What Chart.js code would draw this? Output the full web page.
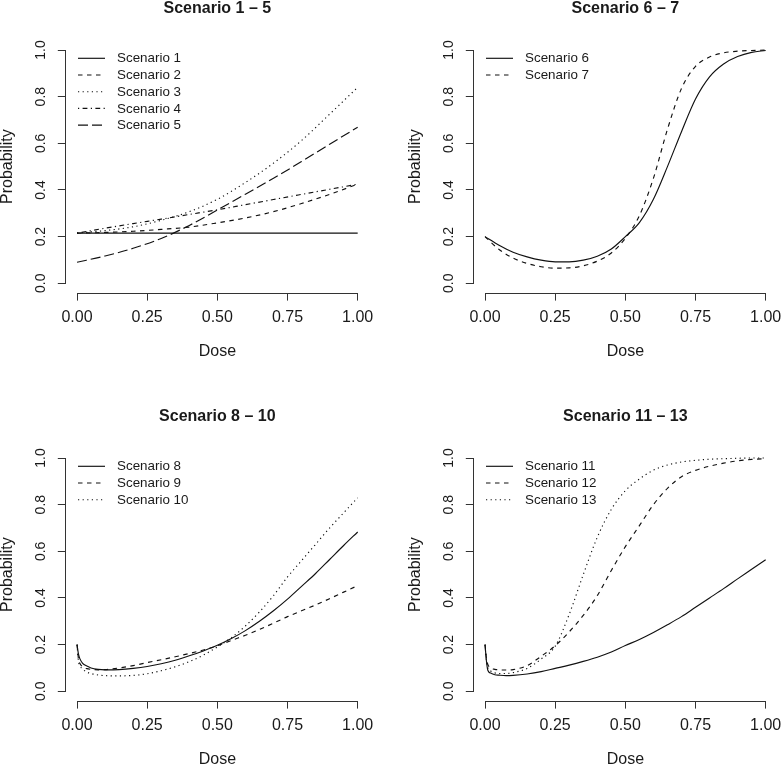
<!DOCTYPE html>
<html>
<head>
<meta charset="utf-8">
<script src="https://cdn.jsdelivr.net/npm/chart.js@4.4.1/dist/chart.umd.min.js"></script>
<style>
  html, body { margin: 0; padding: 0; background: #fff; overflow: hidden; }
  #fig { position: relative; width: 782px; height: 765px; overflow: hidden; background: #fff; }
  #fig canvas { position: absolute; }
</style>
</head>
<body>
<div id="fig">
  <canvas id="p1" width="408" height="408" style="left:0px;top:-25px"></canvas>
  <canvas id="p2" width="408" height="408" style="left:408px;top:-25px"></canvas>
  <canvas id="p3" width="408" height="408" style="left:0px;top:383px"></canvas>
  <canvas id="p4" width="408" height="408" style="left:408px;top:383px"></canvas>
</div>
<script>
// tick labels
const xTicks = [0, 0.25, 0.5, 0.75, 1];
const yTicks = [0, 0.2, 0.4, 0.6, 0.8, 1];

// dose grids
const dose1 = [0, 0.1, 0.2, 0.3, 0.4, 0.5, 0.6, 0.7, 0.8, 0.9, 1.0];
const dose2 = [0, 0.05, 0.1, 0.15, 0.2, 0.25, 0.3, 0.35, 0.4, 0.45, 0.5,
               0.55, 0.6, 0.65, 0.7, 0.75, 0.8, 0.85, 0.9, 0.95, 1.0];
const dose3 = [0, 0.005, 0.01, 0.02, 0.035, 0.05, 0.075, 0.1, 0.15, 0.2, 0.25, 0.3, 0.35,
               0.4, 0.45, 0.5, 0.55, 0.6, 0.65, 0.7, 0.75, 0.8, 0.85, 0.9, 0.95, 1.0];

// Scenario 1 - 5
const scenario1 = [0.215, 0.215, 0.215, 0.215, 0.215, 0.215, 0.215, 0.215, 0.215, 0.215, 0.215];
const scenario2 = [0.215, 0.218, 0.223, 0.231, 0.241, 0.259, 0.28, 0.307, 0.342, 0.381, 0.425];
const scenario3 = [0.215, 0.226, 0.242, 0.27, 0.307, 0.36, 0.432, 0.515, 0.612, 0.725, 0.84];
const scenario4 = [0.215, 0.236, 0.256, 0.275, 0.295, 0.315, 0.337, 0.359, 0.381, 0.403, 0.425];
const scenario5 = [0.09, 0.117, 0.15, 0.192, 0.248, 0.314, 0.382, 0.45, 0.522, 0.596, 0.669];

// Scenario 6 - 7
const scenario6 = [0.2, 0.163, 0.133, 0.113, 0.099, 0.092, 0.092, 0.099, 0.116, 0.147, 0.2,
                   0.26, 0.36, 0.5, 0.65, 0.79, 0.885, 0.94, 0.972, 0.99, 0.998];
const scenario7 = [0.2, 0.145, 0.108, 0.085, 0.071, 0.065, 0.066, 0.075, 0.095, 0.13, 0.193,
                   0.29, 0.45, 0.66, 0.835, 0.93, 0.97, 0.988, 0.995, 0.998, 1.0];

// Scenario 8 - 10
const scenario8 = [0.2, 0.16, 0.14, 0.12, 0.108, 0.1, 0.094, 0.092, 0.093, 0.098, 0.106, 0.118, 0.133,
                   0.152, 0.173, 0.197, 0.226, 0.26, 0.3, 0.345, 0.395, 0.45, 0.505, 0.565, 0.625, 0.683];
const scenario9 = [0.2, 0.14, 0.12, 0.105, 0.097, 0.094, 0.092, 0.093, 0.1, 0.11, 0.123, 0.135, 0.148,
                   0.162, 0.177, 0.195, 0.218, 0.24, 0.265, 0.292, 0.32, 0.345, 0.37, 0.397, 0.425, 0.453];
const scenario10 = [0.2, 0.13, 0.11, 0.095, 0.082, 0.076, 0.07, 0.067, 0.066, 0.068, 0.075, 0.088, 0.105,
                    0.127, 0.155, 0.19, 0.23, 0.28, 0.34, 0.41, 0.49, 0.56, 0.63, 0.7, 0.765, 0.83];

// Scenario 11 - 13
const scenario11 = [0.2, 0.13, 0.09, 0.078, 0.071, 0.069, 0.067, 0.068, 0.074, 0.084, 0.098, 0.112, 0.128,
                    0.146, 0.168, 0.196, 0.222, 0.252, 0.285, 0.32, 0.36, 0.4, 0.44, 0.482, 0.523, 0.564];
const scenario12 = [0.2, 0.14, 0.115, 0.1, 0.094, 0.092, 0.091, 0.093, 0.11, 0.15, 0.195, 0.255, 0.325,
                    0.41, 0.518, 0.62, 0.71, 0.8, 0.87, 0.92, 0.947, 0.965, 0.978, 0.988, 0.994, 0.997];
const scenario13 = [0.2, 0.13, 0.1, 0.087, 0.079, 0.076, 0.076, 0.08, 0.098, 0.138, 0.193, 0.33, 0.5,
                    0.66, 0.78, 0.86, 0.91, 0.948, 0.97, 0.983, 0.99, 0.995, 0.997, 0.999, 1.0, 1.0];

// R line types
const SOLID = [], DASHED = [4.5, 4.5], DOTTED = [1.2, 3.4], DOTDASH = [1.2, 3.4, 4.8, 3.4], LONGDASH = [10, 4];

const FONT = "'Liberation Sans', Arial, Helvetica, sans-serif";
const TEXT = '#1a1a1a';
const AXIS = '#333333';
const LINE = '#111111';

Chart.defaults.font.family = FONT;
Chart.defaults.color = TEXT;

// legend drawn R-style in the top-left of the plot region
const rLegend = {
  id: 'rLegend',
  afterDatasetsDraw(chart) {
    const { ctx, chartArea } = chart;
    ctx.save();
    ctx.font = '13.4px ' + FONT;
    ctx.textBaseline = 'middle';
    ctx.fillStyle = TEXT;
    chart.data.datasets.forEach((ds, i) => {
      const y = chartArea.top + 17.6 + i * 16.7;
      ctx.strokeStyle = ds.borderColor;
      ctx.lineWidth = ds.borderWidth;
      ctx.setLineDash(ds.borderDash);
      ctx.beginPath();
      ctx.moveTo(chartArea.left + 12.2, y);
      ctx.lineTo(chartArea.left + 39.2, y);
      ctx.stroke();
      ctx.fillText(ds.label, chartArea.left + 51.2, y + 0.5);
    });
    ctx.restore();
  }
};

// axis lines only between first and last tick, like R's axis()
const rAxes = {
  id: 'rAxes',
  afterDraw(chart) {
    const { ctx, chartArea, scales: { x, y } } = chart;
    ctx.save();
    ctx.strokeStyle = AXIS;
    ctx.lineWidth = 1;
    ctx.setLineDash([]);
    const by = Math.round(chartArea.bottom) + 0.5;
    const lx = Math.round(chartArea.left) - 0.5;
    ctx.beginPath();
    ctx.moveTo(x.getPixelForValue(xTicks[0]), by);
    ctx.lineTo(x.getPixelForValue(xTicks[xTicks.length - 1]), by);
    ctx.moveTo(lx, y.getPixelForValue(yTicks[0]));
    ctx.lineTo(lx, y.getPixelForValue(yTicks[yTicks.length - 1]));
    ctx.stroke();
    ctx.restore();
  }
};

function makePanel(id, title, dose, series) {
  const ctx = document.getElementById(id);
  return new Chart(ctx, {
    type: 'line',
    data: {
      datasets: series.map(s => ({
        label: s.label,
        data: dose.map((d, i) => ({ x: d, y: s.values[i] })),
        borderColor: LINE,
        borderWidth: 1.15,
        borderDash: s.dash,
        pointRadius: 0,
        fill: false,
        cubicInterpolationMode: 'monotone'
      }))
    },
    options: {
      responsive: false,
      animation: false,
      devicePixelRatio: 1,
      layout: { padding: { left: 0, right: 39.1, top: 0, bottom: 0 } },
      plugins: {
        legend: { display: false },
        tooltip: { enabled: false },
        title: {
          display: true,
          fullSize: false,
          text: title,
          color: TEXT,
          font: { size: 16, weight: 'bold' },
          padding: { top: 23.7, bottom: 22.8 }
        }
      },
      scales: {
        x: {
          type: 'linear',
          min: -0.04,
          max: 1.04,
          afterBuildTicks: s => { s.ticks = xTicks.map(v => ({ value: v })); },
          afterFit: s => { s.height = 90.4; s.paddingLeft = 0; s.paddingRight = 0; },
          border: { display: false },
          grid: { drawOnChartArea: false, drawTicks: true, tickLength: 8, color: AXIS, lineWidth: 1 },
          ticks: {
            autoSkip: false, maxRotation: 0, padding: 7.3, color: TEXT,
            font: { size: 16 },
            callback: v => v.toFixed(2)
          },
          title: { display: true, text: 'Dose', color: TEXT, font: { size: 16 }, padding: { top: 0, bottom: 21.7 } }
        },
        y: {
          type: 'linear',
          min: -0.04,
          max: 1.04,
          afterBuildTicks: s => { s.ticks = yTicks.map(v => ({ value: v })); },
          afterFit: s => { s.width = 65.8; s.paddingTop = 0; s.paddingBottom = 0; },
          border: { display: false },
          grid: { drawOnChartArea: false, drawTicks: true, tickLength: 8, color: AXIS, lineWidth: 1 },
          ticks: {
            autoSkip: false, minRotation: 90, maxRotation: 90, crossAlign: 'center',
            padding: 7.1, color: TEXT, font: { size: 14 },
            callback: v => v.toFixed(1)
          },
          title: {
            display: true, text: 'Probability', color: TEXT,
            font: { size: 16, lineHeight: '14px' },
            padding: { top: 0.5, bottom: 0 }
          }
        }
      }
    },
    plugins: [rAxes, rLegend]
  });
}

makePanel('p1', 'Scenario 1 \u2013 5', dose1, [
  { label: 'Scenario 1', values: scenario1, dash: SOLID },
  { label: 'Scenario 2', values: scenario2, dash: DASHED },
  { label: 'Scenario 3', values: scenario3, dash: DOTTED },
  { label: 'Scenario 4', values: scenario4, dash: DOTDASH },
  { label: 'Scenario 5', values: scenario5, dash: LONGDASH }
]);
makePanel('p2', 'Scenario 6 \u2013 7', dose2, [
  { label: 'Scenario 6', values: scenario6, dash: SOLID },
  { label: 'Scenario 7', values: scenario7, dash: DASHED }
]);
makePanel('p3', 'Scenario 8 \u2013 10', dose3, [
  { label: 'Scenario 8', values: scenario8, dash: SOLID },
  { label: 'Scenario 9', values: scenario9, dash: DASHED },
  { label: 'Scenario 10', values: scenario10, dash: DOTTED }
]);
makePanel('p4', 'Scenario 11 \u2013 13', dose3, [
  { label: 'Scenario 11', values: scenario11, dash: SOLID },
  { label: 'Scenario 12', values: scenario12, dash: DASHED },
  { label: 'Scenario 13', values: scenario13, dash: DOTTED }
]);
</script>
</body>
</html>
